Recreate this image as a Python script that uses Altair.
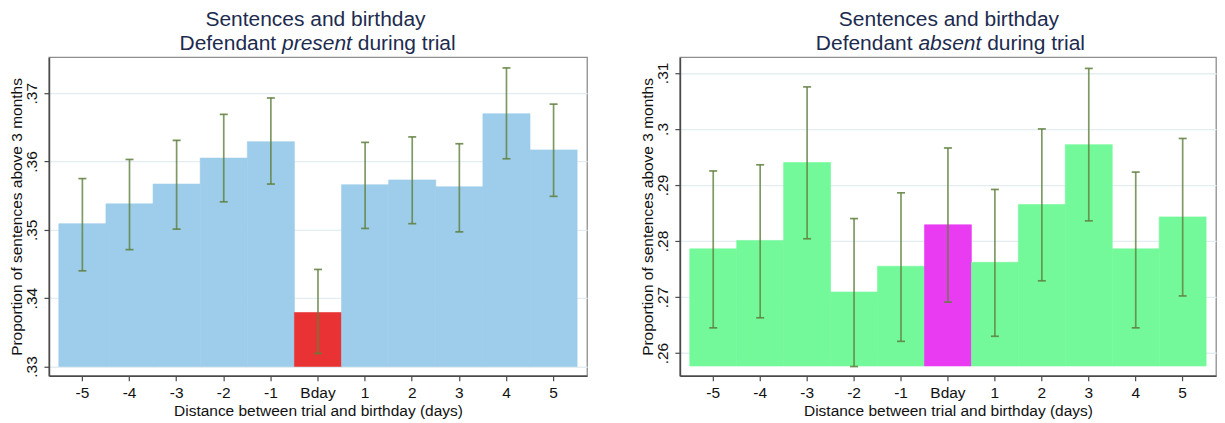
import altair as alt
import pandas as pd

# ---- data ----
days = ["-5", "-4", "-3", "-2", "-1", "Bday", "1", "2", "3", "4", "5"]
kind = ["other"] * 5 + ["bday"] + ["other"] * 5

present_mean = [0.3509, 0.3538, 0.3567, 0.3605, 0.3629, 0.3379, 0.3566, 0.3573, 0.3563, 0.3670, 0.3617]
present_hi = [0.3575, 0.3603, 0.3631, 0.3669, 0.3693, 0.3442, 0.3628, 0.3636, 0.3626, 0.3737, 0.3684]
present_lo = [0.3440, 0.3471, 0.3501, 0.3541, 0.3567, 0.3319, 0.3502, 0.3509, 0.3497, 0.3604, 0.3549]
present_base = 0.33
present_ticks = [0.33, 0.34, 0.35, 0.36, 0.37]
present_domain = [0.32864, 0.37526]

absent_mean = [0.2786, 0.2801, 0.2940, 0.2709, 0.2755, 0.2829, 0.2762, 0.2865, 0.2972, 0.2786, 0.2843]
absent_hi = [0.2925, 0.2936, 0.3075, 0.2840, 0.2886, 0.2966, 0.2892, 0.3000, 0.3108, 0.2923, 0.2983]
absent_lo = [0.2645, 0.2663, 0.2804, 0.2576, 0.2621, 0.2691, 0.2630, 0.2729, 0.2836, 0.2645, 0.2702]
absent_base = 0.2577
absent_ticks = [0.26, 0.27, 0.28, 0.29, 0.30, 0.31]
absent_domain = [0.25596, 0.31279]

title_line1 = "Sentences and birthday"
title_pre = "Defendant"
title_post = "during trial"
x_title = "Distance between trial and birthday (days)"
y_title = "Proportion of sentences above 3 months"

FONT = "Liberation Sans"
NAVY = "#1c2b4e"
H = 319
FS = 21


def panel(mean, lo, hi, base, ticks, domain, colors, word, word_w, c1, cline, width):
    df = pd.DataFrame({"day": days, "kind": kind, "mean": mean, "lo": lo,
                       "hi": hi, "base": [base] * len(days)})
    xenc = alt.X("day:N", sort=days,
                 scale=alt.Scale(paddingInner=0, paddingOuter=0.21),
                 axis=alt.Axis(title=x_title, labelAngle=0, grid=False))
    yscale = alt.Scale(domain=domain, nice=False, zero=False)
    yenc = alt.Y("mean:Q", scale=yscale,
                 axis=alt.Axis(title=y_title, values=ticks,
                               labelExpr="substring(format(datum.value, '.2~f'), 1)",
                               labelAngle=-90, labelAlign="center", labelBaseline="bottom",
                               grid=True))
    cscale = alt.Scale(domain=["other", "bday"], range=colors)
    base_c = alt.Chart(df)
    bars = base_c.mark_bar(opacity=1, strokeWidth=0.6).encode(
        x=xenc, y=yenc, y2="base:Q",
        color=alt.Color("kind:N", scale=cscale, legend=None),
        stroke=alt.Stroke("kind:N", scale=cscale, legend=None),
    )
    ecol = "#5f7f3d"
    rules = base_c.mark_rule(color=ecol, strokeWidth=1.7, opacity=0.8).encode(
        x=alt.X("day:N", sort=days), y=alt.Y("lo:Q", scale=yscale), y2="hi:Q")
    cap_lo = base_c.mark_tick(color=ecol, thickness=1.7, size=8, opacity=0.85).encode(
        x=alt.X("day:N", sort=days), y=alt.Y("lo:Q", scale=yscale))
    cap_hi = base_c.mark_tick(color=ecol, thickness=1.7, size=8, opacity=0.85).encode(
        x=alt.X("day:N", sort=days), y=alt.Y("hi:Q", scale=yscale))

    one = alt.Data(values=[{"k": 0}])
    sp = 0.279 * FS
    tkw = dict(font=FONT, fontSize=FS, color=NAVY, baseline="alphabetic")
    t1 = alt.Chart(one).mark_text(text=title_line1, align="center", **tkw).encode(
        x=alt.value(c1), y=alt.value(-31))
    wc = cline
    ta = alt.Chart(one).mark_text(text=title_pre, align="right", **tkw).encode(
        x=alt.value(wc - word_w / 2 - sp), y=alt.value(-7.5))
    tb = alt.Chart(one).mark_text(text=word, align="center", fontStyle="italic", **tkw).encode(
        x=alt.value(wc), y=alt.value(-7.5))
    tc = alt.Chart(one).mark_text(text=title_post, align="left", **tkw).encode(
        x=alt.value(wc + word_w / 2 + sp), y=alt.value(-7.5))
    return alt.layer(bars, rules, cap_lo, cap_hi, t1, ta, tb, tc).resolve_scale(
        color="independent", stroke="independent").properties(width=width, height=H)


left = panel(present_mean, present_lo, present_hi, present_base, present_ticks,
             present_domain, ["#9dcdea", "#e93233"], "present", 70.0, 267.0, 268.5, 539)
right = panel(absent_mean, absent_lo, absent_hi, absent_base, absent_ticks,
              absent_domain, ["#74f99a", "#e93cf2"], "absent", 63.0, 269.5, 270.4, 537)

chart = alt.hconcat(left, right, spacing=51).configure(
    padding={"left": 0, "top": 0, "right": 0, "bottom": 0},
    background="white",
).configure_view(
    stroke="#8e8e8e", strokeWidth=1.3,
).configure_axis(
    labelFont=FONT, titleFont=FONT, labelFontSize=15.5, titleFontSize=15.5,
    labelColor="#111111", titleColor="#111111", titleFontWeight="normal",
    domainColor="#4a4a4a", domainWidth=1.6, tickColor="#4a4a4a", tickSize=5, tickWidth=1.2,
    gridColor="#e4edf1", gridWidth=1.3,
).configure_axisX(
    labelPadding=5, titlePadding=2,
).configure_axisY(
    labelPadding=4.5, titlePadding=0,
)

chart.save("out.html", embed_options={"renderer": "svg", "actions": False})
